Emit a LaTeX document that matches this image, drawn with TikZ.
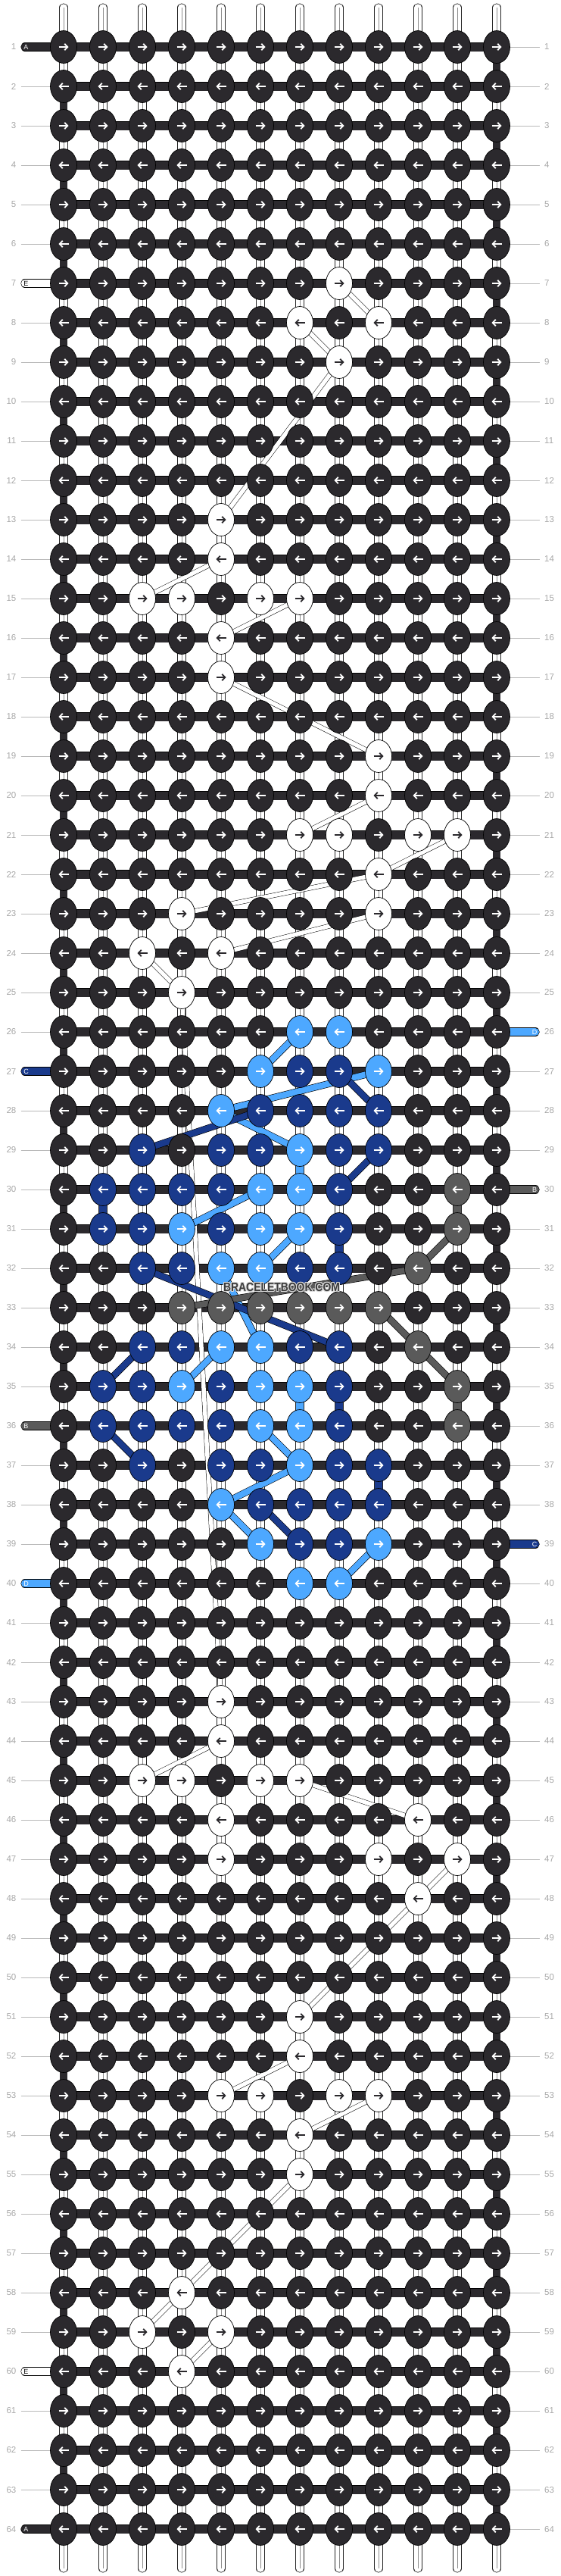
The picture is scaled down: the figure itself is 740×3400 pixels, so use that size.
\documentclass[tikz,border=0pt]{standalone}
\usepackage{fontspec}
\setmainfont{Liberation Sans}
\usetikzlibrary{positioning, arrows.meta, shapes.geometric}
\definecolor{strA}{HTML}{2B292D}
\definecolor{strB}{HTML}{5A5A5A}
\definecolor{strC}{HTML}{1A3A8C}
\definecolor{strD}{HTML}{4DA8FF}
\definecolor{strE}{HTML}{FFFFFF}
\definecolor{rowgray}{HTML}{A8A8A8}
\definecolor{markgray}{HTML}{3C3C3C}
\pgfdeclarelayer{bars}
\pgfdeclarelayer{threads}
\pgfsetlayers{bars,threads,main}
\newcommand{\knotcolour}[3]{\expandafter\gdef\csname kc-#1-#2\endcsname{#3}}
\def\whiteknot{strE}

\begin{document}
\begin{tikzpicture}[x=1pt, y=-1pt,
  knot/.style = {draw, ellipse, minimum width=35pt, minimum height=43pt, inner sep=0pt, line width=0.7pt},
  pointer/.style = {line width=1.8pt, -{Straight Barb[length=4pt, width=8.5pt]}},
  rowbar/.style = {draw=black, line width=0.7pt, double=strA, double distance=11pt},
  pairstrand/.style = {draw=black!85, line width=0.8pt, double=white, double distance=9.5pt},
  paircore/.style = {draw=black!45, line width=0.6pt},
  edgeturn/.style = {draw=black, line width=0.7pt, double=strA, double distance=9.5pt},
  topstub/.style = {pairstrand, line cap=round},
  tailstrand/.style = {draw=black, line width=0.6pt, double distance=10pt, line cap=round},
  tailletter/.style = {font=\fontsize{9}{9}\selectfont, inner sep=0pt},
  carrystrand/.style = {draw=black, line width=0.5pt, double=white, double distance=5.5pt},
  cordstrand/.style = {draw=black, line width=0.6pt, double distance=8pt},
  dropstrand/.style = {draw=black, line width=0.6pt, double distance=9.5pt},
  rownum/.style = {text=rowgray, font=\fontsize{11.5}{12}\selectfont, inner sep=0pt},
  rowline/.style = {draw=rowgray!80, line width=0.6pt},
  marktext/.style = {font=\bfseries\fontsize{16}{16}\selectfont, xscale=0.87, inner sep=0pt}]
\useasboundingbox (0,0) rectangle (740,3400);

% knot colours, A everywhere else
\foreach \r/\c in {7/8, 8/7, 8/9, 9/8, 13/5, 14/5, 15/3, 15/4, 15/6, 15/7, 16/5, 17/5,
  19/9, 20/9, 21/7, 21/8, 21/10, 21/11, 22/9, 23/4, 23/9, 24/3, 24/5, 25/4,
  43/5, 44/5, 45/3, 45/4, 45/6, 45/7, 46/5, 46/10, 47/5, 47/9, 47/11, 48/10,
  51/7, 52/7, 53/5, 53/6, 53/8, 53/9, 54/7, 55/7, 58/4, 59/3, 59/5, 60/4}
  {\knotcolour{\r}{\c}{strE}}
\foreach \r/\c in {26/7, 26/8, 27/6, 27/9, 28/5, 29/7, 30/6, 30/7, 31/4, 31/6, 31/7,
  32/5, 32/6, 34/5, 34/6, 35/4, 35/6, 35/7, 36/6, 36/7, 37/7, 38/5, 39/6, 39/9, 40/7, 40/8}
  {\knotcolour{\r}{\c}{strD}}
\foreach \r/\c in {27/7, 27/8, 28/6, 28/7, 28/8, 28/9, 29/3, 29/5, 29/6, 29/8, 29/9,
  30/2, 30/3, 30/4, 30/5, 30/8, 31/2, 31/3, 31/5, 31/8, 32/3, 32/4, 32/7, 32/8,
  34/3, 34/4, 34/7, 34/8, 35/2, 35/3, 35/5, 35/8, 36/2, 36/3, 36/4, 36/5, 36/8,
  37/3, 37/5, 37/6, 37/8, 37/9, 38/6, 38/7, 38/8, 38/9, 39/7, 39/8}
  {\knotcolour{\r}{\c}{strC}}
\foreach \r/\c in {30/11, 31/11, 32/10, 33/4, 33/5, 33/6, 33/7, 33/8, 33/9, 34/10, 35/11, 36/11}
  {\knotcolour{\r}{\c}{strB}}

% knots
\foreach \r in {1,...,64} {
  \foreach \c in {1,...,12} {
    \ifcsname kc-\r-\c\endcsname \edef\kcol{\csname kc-\r-\c\endcsname}\else \def\kcol{strA}\fi
    \node[knot, fill=\kcol] (k-\r-\c) at ({84+52*(\c-1)}, {62+52*(\r-1)}) {};
    \ifodd\r\relax \def\adir{1}\else \def\adir{-1}\fi
    \ifx\kcol\whiteknot \def\pcol{strA}\else \def\pcol{white}\fi
    \draw[pointer, draw=\pcol] (k-\r-\c.center) ++(-6.5*\adir, 0) -- ++(13*\adir, 0);
  }
}

% row numbers
\foreach \r in {1,...,64} {
  \node[rownum, anchor=east] (numL-\r) at (21.5, {62+52*(\r-1)}) {\r};
  \node[rownum, anchor=west] (numR-\r) at (719, {62+52*(\r-1)}) {\r};
}

\begin{pgfonlayer}{bars}
  \foreach \r in {1,...,64} {
    \draw[rowline] ([xshift=6pt]numL-\r.east) -- (k-\r-1.west);
    \draw[rowline] (k-\r-12.east) -- ([xshift=-6pt]numR-\r.west);
  }
  \foreach \c in {1,...,12} {
    \coordinate (top-\c) at ({84+52*(\c-1)}, 10);
    \coordinate (end-\c) at ({84+52*(\c-1)}, 3390);
    \draw[topstub] (top-\c) -- (k-1-\c.center);
    \draw[paircore] (top-\c) -- (k-1-\c.center);
    \draw[topstub] (k-64-\c.center) -- (end-\c);
    \draw[paircore] (k-64-\c.center) -- (end-\c);
  }
  \foreach \r in {1,...,63} {
    \pgfmathtruncatemacro{\rn}{\r+1}
    \ifodd\r\relax \def\tc{12}\else \def\tc{1}\fi
    \foreach \c in {1,...,12} {
      \ifnum\c=\tc\relax
        \draw[edgeturn] (k-\r-\c.center) -- (k-\rn-\c.center);
      \else
        \draw[pairstrand] (k-\r-\c.center) -- (k-\rn-\c.center);
        \draw[paircore] (k-\r-\c.center) -- (k-\rn-\c.center);
      \fi
    }
  }
  \foreach \r in {1,...,64}
    \draw[rowbar] (k-\r-1.center) -- (k-\r-12.center);
  % loose ends
  \foreach \r/\col in {1/strA, 7/strE, 27/strC, 36/strB, 40/strD, 60/strE, 64/strA} {
    \coordinate (tailL-\r) at (33, {62+52*(\r-1)});
    \draw[tailstrand, double=\col] (tailL-\r) -- (k-\r-1.center);
  }
  \foreach \r/\col in {26/strD, 30/strB, 39/strC} {
    \coordinate (tailR-\r) at (707, {62+52*(\r-1)});
    \draw[tailstrand, double=\col] (tailR-\r) -- (k-\r-12.center);
  }
\end{pgfonlayer}

\foreach \r/\txt/\tcol in {1/A/white, 7/E/black, 27/C/white, 36/B/white, 40/D/white, 60/E/black, 64/A/white}
  \node[tailletter, text=\tcol] (tagL-\r) at (34.5, {62+52*(\r-1)}) {\txt};
\foreach \r/\txt in {26/D, 30/B, 39/C}
  \node[tailletter, text=white] (tagR-\r) at (706, {62+52*(\r-1)}) {\txt};

\begin{pgfonlayer}{threads}
  % E carried behind
  \foreach \a/\b/\p/\q in {7/8/8/9, 8/7/9/8, 9/8/13/5, 14/5/15/3, 15/7/16/5, 17/5/19/9,
    20/9/21/7, 21/11/22/9, 22/9/23/4, 23/9/24/5, 24/3/25/4, 25/4/43/5, 44/5/45/3,
    45/7/46/10, 47/11/48/10, 48/10/51/7, 52/7/53/5, 53/9/54/7, 55/7/58/4, 58/4/59/3, 59/5/60/4}
    \draw[carrystrand] (k-\a-\b.center) -- (k-\p-\q.center);
  % colour cords
  \foreach \a/\b/\p/\q/\col in {26/7/27/6/strD, 27/9/28/5/strD, 28/5/29/7/strD, 30/6/31/4/strD,
    31/7/32/6/strD, 32/5/34/6/strD, 34/5/35/4/strD, 36/6/37/7/strD, 37/7/38/5/strD,
    38/5/39/6/strD, 39/9/40/8/strD,
    27/8/28/9/strC, 28/6/29/3/strC, 29/9/30/8/strC, 32/3/34/8/strC, 34/3/35/2/strC,
    36/2/37/3/strC, 38/6/39/7/strC,
    31/11/32/10/strB, 32/10/33/4/strB, 33/9/35/11/strB}
    \draw[cordstrand, double=\col] (k-\a-\b.center) -- (k-\p-\q.center);
  \foreach \a/\b/\p/\col in {29/7/30/strD, 35/7/36/strD, 30/2/31/strC, 31/8/32/strC,
    35/8/36/strC, 37/9/38/strC, 30/11/31/strB, 35/11/36/strB}
    \draw[dropstrand, double=\col] (k-\a-\b.center) -- (k-\p-\b.center);
\end{pgfonlayer}

% watermark with a light rim
\foreach \dx/\dy [count=\i] in {-1/0, 1/0, 0/-1, 0/1, -0.8/-0.8, 0.8/-0.8, -0.8/0.8, 0.8/0.8}
  \node[marktext, text=black!15] (rim-\i) at (372+\dx, 1699+\dy) {BRACELETBOOK.COM};
\node[marktext, text=markgray] (mark) at (372, 1699) {BRACELETBOOK.COM};
\end{tikzpicture}
\end{document}
